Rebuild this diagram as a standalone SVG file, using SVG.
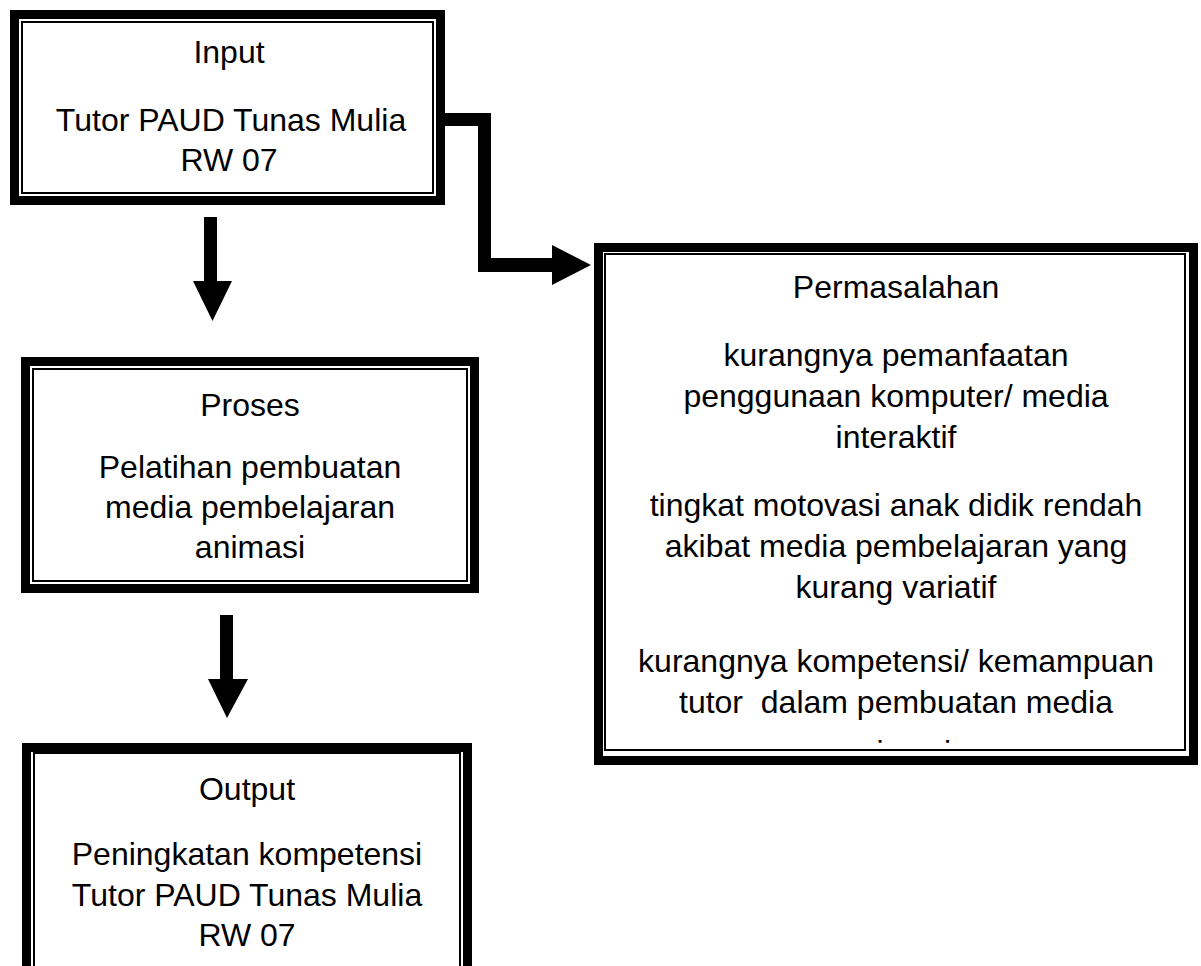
<svg xmlns="http://www.w3.org/2000/svg" width="1201" height="966" viewBox="0 0 1201 966">
<style>
.outer{fill:none;stroke:#000;stroke-width:9}
.inner{fill:none;stroke:#000;stroke-width:2}
text{font-family:"Liberation Sans",Arial,sans-serif;font-size:32px;fill:#000;text-anchor:middle}
.arr{fill:#000;stroke:none}
</style>
<defs>
<clipPath id="clipP"><rect x="606" y="255" width="580" height="489"/></clipPath>
</defs>
<rect width="1201" height="966" fill="#fff"/>
<g id="connectors">
<path class="arr" d="M204,217 H217 V281 H232 L212.5,321 L193,281 H204 Z"/>
<path class="arr" d="M220,615 H233 V679 H248 L227,718 L208,679 H220 Z"/>
<path class="arr" d="M445,113 H491 V258 H552 V245 L591,265 L552,285 V272 H478 V126 H445 Z"/>
</g>
<g id="input">
<rect class="outer" x="14.5" y="14.5" width="426" height="186"/>
<rect class="inner" x="22" y="22" width="411" height="171"/>
<text x="229" y="63">Input</text>
<text x="231" y="131">Tutor PAUD Tunas Mulia</text>
<text x="229" y="171">RW 07</text>
</g>
<g id="proses">
<rect class="outer" x="25.5" y="361.5" width="449" height="227"/>
<rect class="inner" x="33" y="369" width="434" height="212"/>
<text x="250" y="416">Proses</text>
<text x="250" y="478">Pelatihan pembuatan</text>
<text x="250" y="518">media pembelajaran</text>
<text x="250" y="558">animasi</text>
</g>
<g id="output">
<rect class="outer" x="26.5" y="747.5" width="441" height="240"/>
<rect class="inner" x="34" y="753" width="426" height="230"/>
<text x="247" y="800">Output</text>
<text x="247" y="865">Peningkatan kompetensi</text>
<text x="247" y="906">Tutor PAUD Tunas Mulia</text>
<text x="247" y="946">RW 07</text>
</g>
<g id="permasalahan">
<rect class="outer" x="598.5" y="247.5" width="595" height="513"/>
<rect class="inner" x="605" y="254" width="580" height="496"/>
<text x="896" y="298">Permasalahan</text>
<g clip-path="url(#clipP)">
<text x="896" y="366">kurangnya pemanfaatan</text>
<text x="896" y="407">penggunaan komputer/ media</text>
<text x="896" y="448">interaktif</text>
<text x="896" y="516">tingkat motovasi anak didik rendah</text>
<text x="896" y="557">akibat media pembelajaran yang</text>
<text x="896" y="598">kurang variatif</text>
<text x="896" y="672" xml:space="preserve">kurangnya kompetensi/ kemampuan</text>
<text x="896" y="713" xml:space="preserve">tutor  dalam pembuatan media</text>
<text x="896" y="763">animasi</text>
</g>
</g>
</svg>
